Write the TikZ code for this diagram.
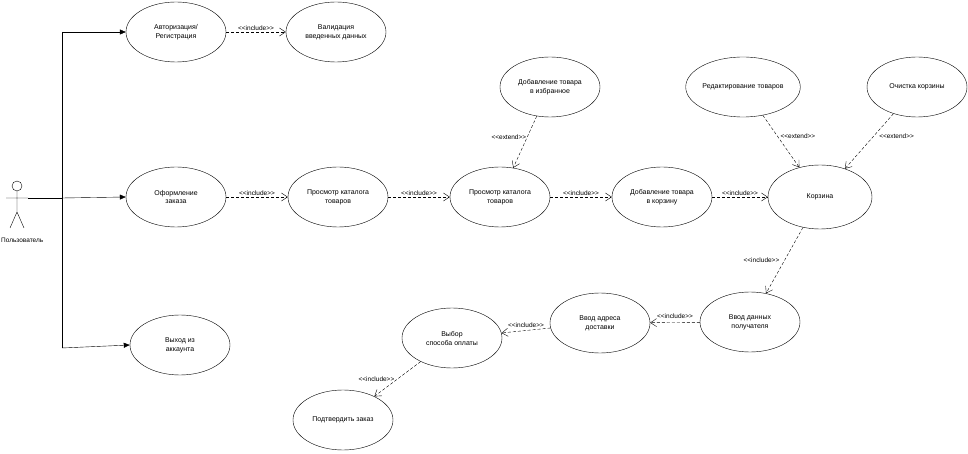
\documentclass[tikz,border=0pt]{standalone}
\usepackage{fontspec}
\setmainfont{Liberation Sans}
\usetikzlibrary{arrows.meta,shapes.geometric}
\newcommand{\incl}{{<}{<}include{>}{>}}
\newcommand{\extd}{{<}{<}extend{>}{>}}
\begin{document}
\begin{tikzpicture}[x=1bp,y=-1bp,
  uc/.style={draw,ellipse,minimum width=100bp,minimum height=60bp,align=center,font=\fontsize{7}{9}\selectfont,inner sep=0pt},
  dep/.style={densely dashed,-{Straight Barb[length=6bp,width=8bp]}},
  lab/.style={font=\fontsize{6.5}{7}\selectfont,inner sep=1pt},
  solid/.style={-{Triangle[length=6bp,width=5bp]}}]
\useasboundingbox (0,0) rectangle (968,454);
\node[uc] (auth) at (176,32) {Авторизация/\\Регистрация};
\node[uc] (valid) at (336,32) {Валидация\\введенных данных};
\node[uc] (order) at (176,197) {Оформление\\заказа};
\node[uc] (cat1) at (338,197) {Просмотр каталога\\товаров};
\node[uc] (cat2) at (500,197) {Просмотр каталога\\товаров};
\node[uc] (cart) at (662,197) {Добавление товара\\в корзину};
\node[uc,minimum width=104bp,minimum height=64bp] (korz) at (820,197) {Корзина};
\node[uc] (fav) at (550,87) {Добавление товара\\в избранное};
\node[uc] (edit) at (743,87) {Редактирование товаров};
\node[uc] (clear) at (917,87) {Очистка корзины};
\node[uc] (exit) at (180,345) {Выход из\\аккаунта};
\node[uc] (recv) at (750,322) {Ввод данных\\получателя};
\node[uc] (addr) at (600,323) {Ввод адреса\\доставки};
\node[uc] (pay) at (452,338) {Выбор\\способа оплаты};
\node[uc] (conf) at (343,420) {Подтвердить заказ};
% actor
\draw (17,186) circle (5bp);
\draw (17,191) -- (17,212) (6,198) -- (28,198) (17,212) -- (10,228) (17,212) -- (24,228);
\node[font=\fontsize{6.5}{8}\selectfont,inner sep=0pt,anchor=west] (actlab) at (1,240) {Пользователь};
\coordinate (act) at (28,198);
\coordinate (tt) at (62,32);
\coordinate (tm) at (62,198);
\coordinate (tb) at (62,348);
\draw (tt) -- (tb);
\draw (act) -- (tm);
\draw[solid] (tt) -- (auth.west);
\draw[solid] (tm) -- (order.west);
\draw[solid] (tb) -- (exit.west);
% dependencies
\draw[dep] (auth) -- node[lab,above]{\incl} (valid);
\draw[dep] (order) -- node[lab,above]{\incl} (cat1);
\draw[dep] (cat1) -- node[lab,above]{\incl} (cat2);
\draw[dep] (cat2) -- node[lab,above]{\incl} (cart);
\draw[dep] (cart) -- node[lab,above]{\incl} (korz);
\draw[dep] (fav) -- node[lab,left,pos=0.4]{\extd} (cat2);
\draw[dep] (edit) -- node[lab,right,pos=0.4,xshift=2bp]{\extd} (korz);
\draw[dep] (clear) -- node[lab,right,pos=0.4,xshift=4bp]{\extd} (korz);
\draw[dep] (korz) -- node[lab,left,xshift=-4bp]{\incl} (recv);
\draw[dep] (recv) -- node[lab,above,yshift=3bp]{\incl} (addr);
\draw[dep] (addr) -- node[lab,above,yshift=2bp]{\incl} (pay);
\draw[dep] (pay) -- node[lab,left,xshift=-2bp]{\incl} (conf);
\end{tikzpicture}
\end{document}
